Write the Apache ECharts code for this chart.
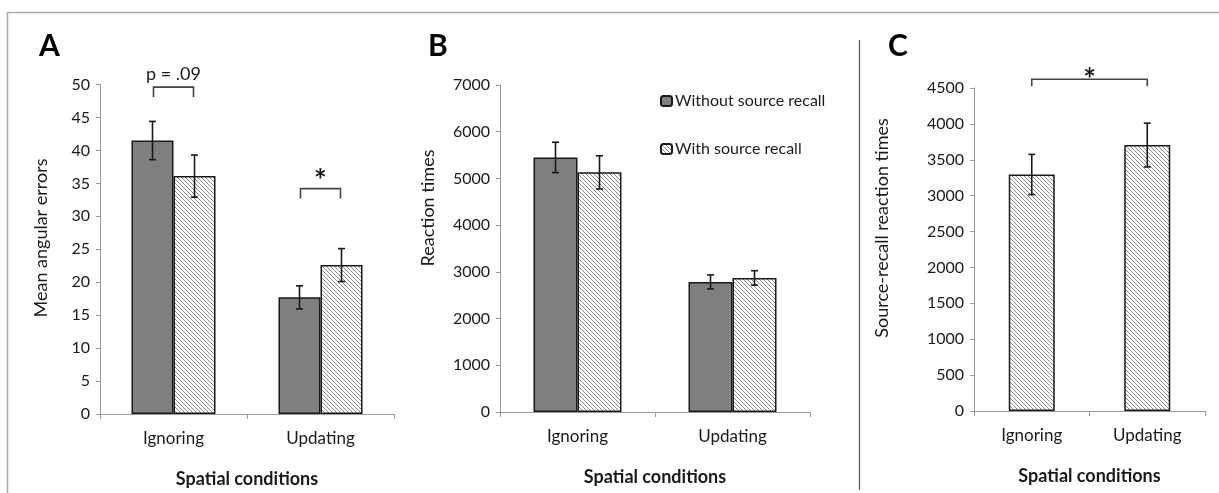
<!DOCTYPE html>
<html>
<head>
<meta charset="utf-8">
<script src="https://cdn.jsdelivr.net/npm/echarts@6/dist/echarts.min.js"></script>
<style>
html,body{margin:0;padding:0;background:#fff;}
#chart{width:1219px;height:493px;}
</style>
</head>
<body>
<div id="chart"></div>
<script>
// ---------- DATA ----------
const categories = ['Ignoring', 'Updating'];
const seriesNames = ['Without source recall', 'With source recall'];
const xAxisTitle = 'Spatial conditions';
const yAxisTitles = ['Mean angular errors', 'Reaction times', 'Source-recall reaction times'];
const panelLetters = ['A', 'B', 'C'];

// Panel A: mean angular errors
const aWithout = [41.5, 17.7];
const aWithoutErr = [2.9, 1.75];
const aWith = [36.1, 22.6];
const aWithErr = [3.2, 2.5];

// Panel B: reaction times
const bWithout = [5450, 2785];
const bWithoutErr = [325, 150];
const bWith = [5130, 2870];
const bWithErr = [355, 155];

// Panel C: source-recall reaction times
const cWith = [3295, 3705];
const cWithErr = [280, 305];

// Tick settings
const aTicks = {min: 0, max: 50, interval: 5};
const bTicks = {min: 0, max: 7000, interval: 1000};
const cTicks = {min: 0, max: 4500, interval: 500};

// Significance annotations
// within a category: [category, top value, leg value, label value, label]
const sigA = [[0, 49.6, 48.1, 51.6, 'p = .09'], [1, 34.2, 32.7, 35.3, '*']];
// between categories: [from cat, to cat, top value, leg value, label value, label]
const sigC = [[0, 1, 4621, 4524, 4600, '*']];

// ---------- STYLE ----------
const FONT = 'Lato, "Open Sans", sans-serif';
const TXT = '#1a1a1a';
const AXIS = '#9a9a9a';
const DARK = '#7f7f7f';

function makeHatch() {
  const c = document.createElement('canvas');
  c.width = 4; c.height = 4;
  const g = c.getContext('2d');
  g.fillStyle = '#ffffff'; g.fillRect(0, 0, 4, 4);
  g.fillStyle = '#8c8c8c';
  for (let i = 0; i < 4; i++) g.fillRect(i, i, 1, 1);
  return c;
}
const hatch = {image: makeHatch(), repeat: 'repeat'};

const barW = [42, 44, 46];

function axisPair(gi, ticks) {
  return {
    x: {
      type: 'category', gridIndex: gi, data: categories,
      axisLine: {lineStyle: {color: AXIS, width: 1}},
      axisTick: {show: true, length: 5, lineStyle: {color: AXIS}},
      axisLabel: {fontFamily: FONT, fontSize: 17, color: TXT, margin: 16},
      name: xAxisTitle, nameLocation: 'middle', nameGap: 56,
      nameTextStyle: {fontFamily: FONT, fontSize: 18, fontWeight: 'bold', color: TXT}
    },
    y: {
      type: 'value', gridIndex: gi, min: ticks.min, max: ticks.max, interval: ticks.interval,
      splitLine: {show: false},
      axisLine: {show: true, lineStyle: {color: AXIS, width: 1}},
      axisTick: {show: true, length: 4, lineStyle: {color: AXIS}},
      axisLabel: {fontFamily: FONT, fontSize: 16, color: TXT, margin: 10, formatter: v => String(v)}
    }
  };
}

const pA = axisPair(0, aTicks);
const pB = axisPair(1, bTicks);
const pC = axisPair(2, cTicks);

function barSeries(name, gi, data, fill, bw) {
  return {
    type: 'bar', name: name, xAxisIndex: gi, yAxisIndex: gi, data: data,
    barWidth: bw, barGap: '0%',
    itemStyle: {color: fill, borderColor: '#1a1a1a', borderWidth: 1.5},
    emphasis: {disabled: true}
  };
}

function errSeries(gi, vals, errs, off) {
  return {
    type: 'custom', xAxisIndex: gi, yAxisIndex: gi, z: 10, silent: true,
    data: vals.map((v, i) => [i, v, errs[i]]),
    renderItem: function (params, api) {
      const hi = api.coord([api.value(0), api.value(1) + api.value(2)]);
      const lo = api.coord([api.value(0), api.value(1) - api.value(2)]);
      const x = hi[0] + off;
      const st = {stroke: '#1a1a1a', lineWidth: 1.6};
      return {type: 'group', children: [
        {type: 'line', shape: {x1: x, y1: hi[1], x2: x, y2: lo[1]}, style: st},
        {type: 'line', shape: {x1: x - 3.5, y1: hi[1], x2: x + 3.5, y2: hi[1]}, style: st},
        {type: 'line', shape: {x1: x - 3.5, y1: lo[1], x2: x + 3.5, y2: lo[1]}, style: st}
      ]};
    }
  };
}

function bracketText(x, y, label) {
  const star = label === '*';
  return {type: 'text', style: {
    text: label, x: x, y: y, textAlign: 'center', textVerticalAlign: 'middle',
    font: (star ? 'bold 30px ' : '18px ') + FONT, fill: TXT
  }};
}

function sigSeriesWithin(gi, data, half) {
  return {
    type: 'custom', xAxisIndex: gi, yAxisIndex: gi, z: 10, silent: true, clip: false,
    data: data.map(d => [d[0], d[1], d[2], d[3]]),
    renderItem: function (params, api) {
      const d = data[params.dataIndex];
      const top = api.coord([d[0], d[1]]);
      const leg = api.coord([d[0], d[2]]);
      const lab = api.coord([d[0], d[3]]);
      const x1 = top[0] - half, x2 = top[0] + half;
      return {type: 'group', children: [
        {type: 'polyline', shape: {points: [[x1, leg[1]], [x1, top[1]], [x2, top[1]], [x2, leg[1]]]},
          style: {stroke: '#444', lineWidth: 1.6, fill: null}},
        bracketText(top[0], lab[1], d[4])
      ]};
    }
  };
}

function sigSeriesBetween(gi, data) {
  return {
    type: 'custom', xAxisIndex: gi, yAxisIndex: gi, z: 10, silent: true, clip: false,
    data: data.map(d => [d[0], d[2], d[3], d[4]]),
    renderItem: function (params, api) {
      const d = data[params.dataIndex];
      const a = api.coord([d[0], d[2]]);
      const b = api.coord([d[1], d[2]]);
      const leg = api.coord([d[0], d[3]]);
      const lab = api.coord([d[0], d[4]]);
      return {type: 'group', children: [
        {type: 'polyline', shape: {points: [[a[0], leg[1]], [a[0], a[1]], [b[0], b[1]], [b[0], leg[1]]]},
          style: {stroke: '#444', lineWidth: 1.6, fill: null}},
        bracketText((a[0] + b[0]) / 2, lab[1], d[5])
      ]};
    }
  };
}

function yTitle(text, x, y) {
  return {type: 'text', x: x, y: y, rotation: Math.PI / 2, silent: true,
    style: {text: text, textAlign: 'center', textVerticalAlign: 'middle', font: '18px ' + FONT, fill: TXT}};
}
function letter(text, x) {
  return {type: 'text', left: x, top: 31, silent: true, style: {text: text, font: 'bold 30px ' + FONT, fill: '#000'}};
}

const chart = echarts.init(document.getElementById('chart'), null, {renderer: 'canvas'});
chart.setOption({
  animation: false,
  backgroundColor: '#ffffff',
  grid: [
    {left: 100, top: 84.5, width: 294, height: 330},
    {left: 500, top: 85, width: 310, height: 327},
    {left: 974, top: 88, width: 231, height: 323}
  ],
  xAxis: [pA.x, pB.x, pC.x],
  yAxis: [pA.y, pB.y, pC.y],
  legend: {
    data: seriesNames, orient: 'vertical', left: 655, top: 88,
    itemWidth: 11, itemHeight: 10, itemGap: 32,
    textStyle: {fontFamily: FONT, fontSize: 16, color: TXT, padding: [0, 0, 0, -2]},
    selectedMode: false
  },
  graphic: [
    {type: 'line', shape: {x1: 7, y1: 12.5, x2: 1219, y2: 12.5}, style: {stroke: '#a8a8a8', lineWidth: 1.5}, silent: true},
    {type: 'line', shape: {x1: 7.5, y1: 12, x2: 7.5, y2: 493}, style: {stroke: '#a8a8a8', lineWidth: 1.5}, silent: true},
    {type: 'line', shape: {x1: 859.5, y1: 40, x2: 859.5, y2: 490}, style: {stroke: '#555', lineWidth: 1.2}, silent: true},
    letter(panelLetters[0], 39), letter(panelLetters[1], 428), letter(panelLetters[2], 888),
    yTitle(yAxisTitles[0], 41, 238),
    yTitle(yAxisTitles[1], 428, 208),
    yTitle(yAxisTitles[2], 882, 228)
  ],
  series: [
    barSeries(seriesNames[0], 0, aWithout, DARK, barW[0]),
    barSeries(seriesNames[1], 0, aWith, hatch, barW[0]),
    errSeries(0, aWithout, aWithoutErr, -barW[0] / 2),
    errSeries(0, aWith, aWithErr, barW[0] / 2),
    sigSeriesWithin(0, sigA, barW[0] / 2 - 1),

    barSeries(seriesNames[0], 1, bWithout, DARK, barW[1]),
    barSeries(seriesNames[1], 1, bWith, hatch, barW[1]),
    errSeries(1, bWithout, bWithoutErr, -barW[1] / 2),
    errSeries(1, bWith, bWithErr, barW[1] / 2),

    barSeries('Source recall', 2, cWith, hatch, barW[2]),
    errSeries(2, cWith, cWithErr, 0),
    sigSeriesBetween(2, sigC)
  ]
});
</script>
</body>
</html>
